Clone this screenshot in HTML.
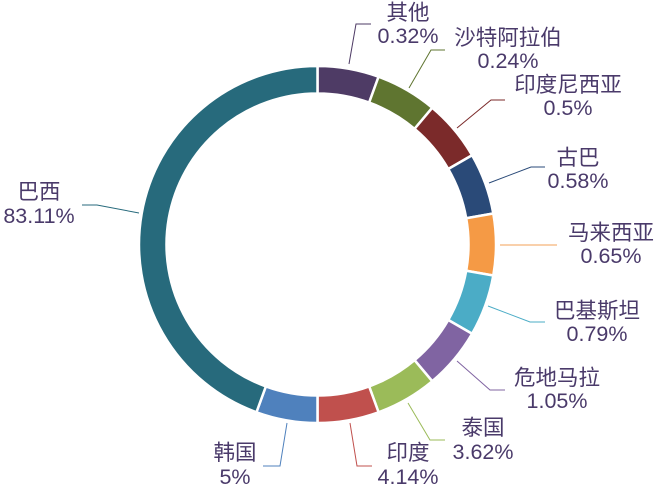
<!DOCTYPE html>
<html><head><meta charset="utf-8"><style>
html,body{margin:0;padding:0;background:#fff;width:654px;height:486px;overflow:hidden}
svg text{font-family:"Liberation Sans","Noto Sans CJK SC",sans-serif;font-size:21.5px;fill:#4a3a6a;text-anchor:middle}
</style></head><body>
<svg id="s" width="654" height="486" viewBox="0 0 654 486" xmlns="http://www.w3.org/2000/svg">
<g id="ring"></g>
<g fill="none" stroke-width="1">
<polyline points="349,64 356,24 371,24" stroke="#4e3b65"/>
<polyline points="409,88 431,50 445,50" stroke="#5f7530"/>
<polyline points="457,128 491,100 505,100" stroke="#7b2a2a"/>
<polyline points="489,183 531,167 545,167" stroke="#2a4a78"/>
<polyline points="500,245 557,245" stroke="#f7c08f" stroke-width="1.5"/>
<polyline points="488,306 530,322 545,322" stroke="#4bacc6"/>
<polyline points="457,361 490,390 505,390" stroke="#8064a2"/>
<polyline points="408,403 430,440 445,440" stroke="#9bbb59"/>
<polyline points="350,423 357,466 372,466" stroke="#c0504d"/>
<polyline points="287,423 280,466 263,466" stroke="#4f81bd"/>
<polyline points="139,213 97,205 82,205" stroke="#276a7c"/>
</g>
<text x="408" y="20">其他</text><text x="408" y="43">0.32%</text>
<text x="508" y="45">沙特阿拉伯</text><text x="508" y="68">0.24%</text>
<text x="568" y="92">印度尼西亚</text><text x="568" y="115">0.5%</text>
<text x="578" y="165">古巴</text><text x="578" y="188">0.58%</text>
<text x="611" y="240">马来西亚</text><text x="611" y="263">0.65%</text>
<text x="597" y="318">巴基斯坦</text><text x="597" y="341">0.79%</text>
<text x="557" y="385">危地马拉</text><text x="557" y="408">1.05%</text>
<text x="483" y="435">泰国</text><text x="483" y="459">3.62%</text>
<text x="408" y="460">印度</text><text x="408" y="484">4.14%</text>
<text x="235" y="460">韩国</text><text x="235" y="484">5%</text>
<text x="39" y="199">巴西</text><text x="39" y="223">83.11%</text>
</svg>
<script>
var cx=317.5,cy=244.5,R=178.5,r=151;
var cols=["#4e3b65","#5f7530","#7b2a2a","#2a4a78","#f59a45","#4bacc6","#8064a2","#9bbb59","#c0504d","#4f81bd","#276a7c"];
var segs=[];for(var i=0;i<10;i++)segs.push([i*20,(i+1)*20]);segs.push([200,360]);
function p(a,rad){var t=(a-90)*Math.PI/180;return (cx+rad*Math.cos(t)).toFixed(2)+","+(cy+rad*Math.sin(t)).toFixed(2);}
var g=document.getElementById("ring"),h="";
segs.forEach(function(s,i){var a0=s[0],a1=s[1],l=(a1-a0)>180?1:0;
h+='<path d="M'+p(a0,R)+' A'+R+','+R+' 0 '+l+' 1 '+p(a1,R)+' L'+p(a1,r)+' A'+r+','+r+' 0 '+l+' 0 '+p(a0,r)+' Z" fill="'+cols[i]+'" stroke="#fff" stroke-width="2.5"/>';});
g.innerHTML=h;
</script>
</body></html>
